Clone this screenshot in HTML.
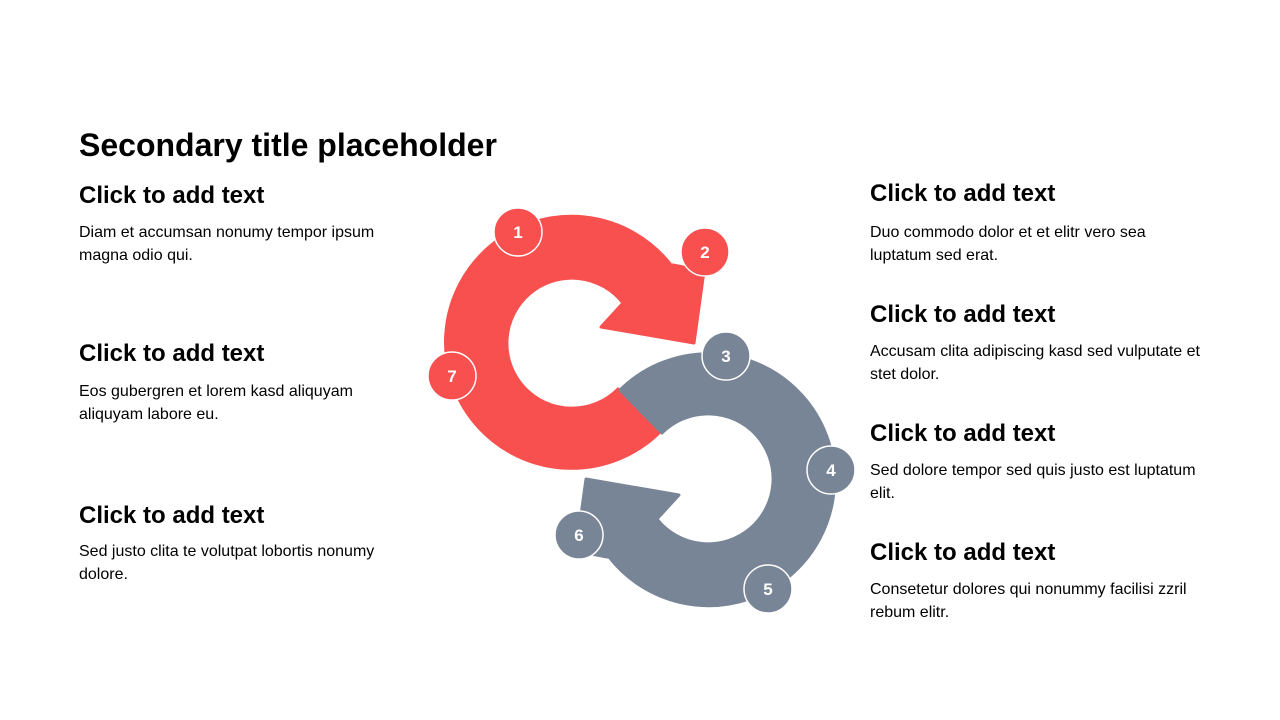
<!DOCTYPE html>
<html><head><meta charset="utf-8"><style>
body{margin:0;width:1280px;height:720px;background:#fff;position:relative;overflow:hidden;font-family:"Liberation Sans",Arial,sans-serif;color:#000}
.t{position:absolute;left:79px;top:128px;font-size:32px;line-height:34px;font-weight:bold;white-space:nowrap}
.h{position:absolute;font-size:24px;line-height:26px;font-weight:bold;white-space:nowrap}
.b{position:absolute;font-size:16px;line-height:23px;width:335px}
svg{position:absolute;left:0;top:0}
</style></head><body>
<div class="t">Secondary title placeholder</div>

<div class="h" style="left:79px;top:183px">Click to add text</div>
<div class="b" style="left:79px;top:221px">Diam et accumsan nonumy tempor ipsum magna odio qui.</div>
<div class="h" style="left:79px;top:341px">Click to add text</div>
<div class="b" style="left:79px;top:380px">Eos gubergren et lorem kasd aliquyam aliquyam labore eu.</div>
<div class="h" style="left:79px;top:503px">Click to add text</div>
<div class="b" style="left:79px;top:540px">Sed justo clita te volutpat lobortis nonumy dolore.</div>

<div class="h" style="left:870px;top:181px">Click to add text</div>
<div class="b" style="left:870px;top:221px">Duo commodo dolor et et elitr vero sea luptatum sed erat.</div>
<div class="h" style="left:870px;top:302px">Click to add text</div>
<div class="b" style="left:870px;top:340px">Accusam clita adipiscing kasd sed vulputate et stet dolor.</div>
<div class="h" style="left:870px;top:421px">Click to add text</div>
<div class="b" style="left:870px;top:459px">Sed dolore tempor sed quis justo est luptatum elit.</div>
<div class="h" style="left:870px;top:540px">Click to add text</div>
<div class="b" style="left:870px;top:578px">Consetetur dolores qui nonummy facilisi zzril rebum elitr.</div>

<svg width="1280" height="720" viewBox="0 0 1280 720">
<path fill="#f84f4f" stroke="#f84f4f" stroke-width="3" stroke-linejoin="round" d="M618,389 L660,432 A126,126 0 1 1 671,265 L673,265 L704,271 L694,343 L601,327 L623,303 A65,65 0 1 0 618,389 Z"/>
<path transform="rotate(180 640 411)" fill="#788596" stroke="#788596" stroke-width="3" stroke-linejoin="round" d="M618,389 L660,432 A126,126 0 1 1 671,265 L673,265 L704,271 L694,343 L601,327 L623,303 A65,65 0 1 0 618,389 Z"/>
<g stroke="#fff" stroke-width="1.5">
<circle cx="518" cy="232" r="24" fill="#f84f4f"/>
<circle cx="705" cy="252" r="24" fill="#f84f4f"/>
<circle cx="452" cy="376" r="24" fill="#f84f4f"/>
<circle cx="726" cy="356" r="24" fill="#788596"/>
<circle cx="831" cy="470" r="24" fill="#788596"/>
<circle cx="768" cy="589" r="24" fill="#788596"/>
<circle cx="579" cy="535" r="24" fill="#788596"/>
</g>
<g fill="#fff" font-family="Liberation Sans, Arial, sans-serif" font-weight="bold" font-size="17" text-anchor="middle">
<text x="518" y="238">1</text>
<text x="705" y="258">2</text>
<text x="452" y="382">7</text>
<text x="726" y="362">3</text>
<text x="831" y="476">4</text>
<text x="768" y="595">5</text>
<text x="579" y="541">6</text>
</g>
</svg>
</body></html>
